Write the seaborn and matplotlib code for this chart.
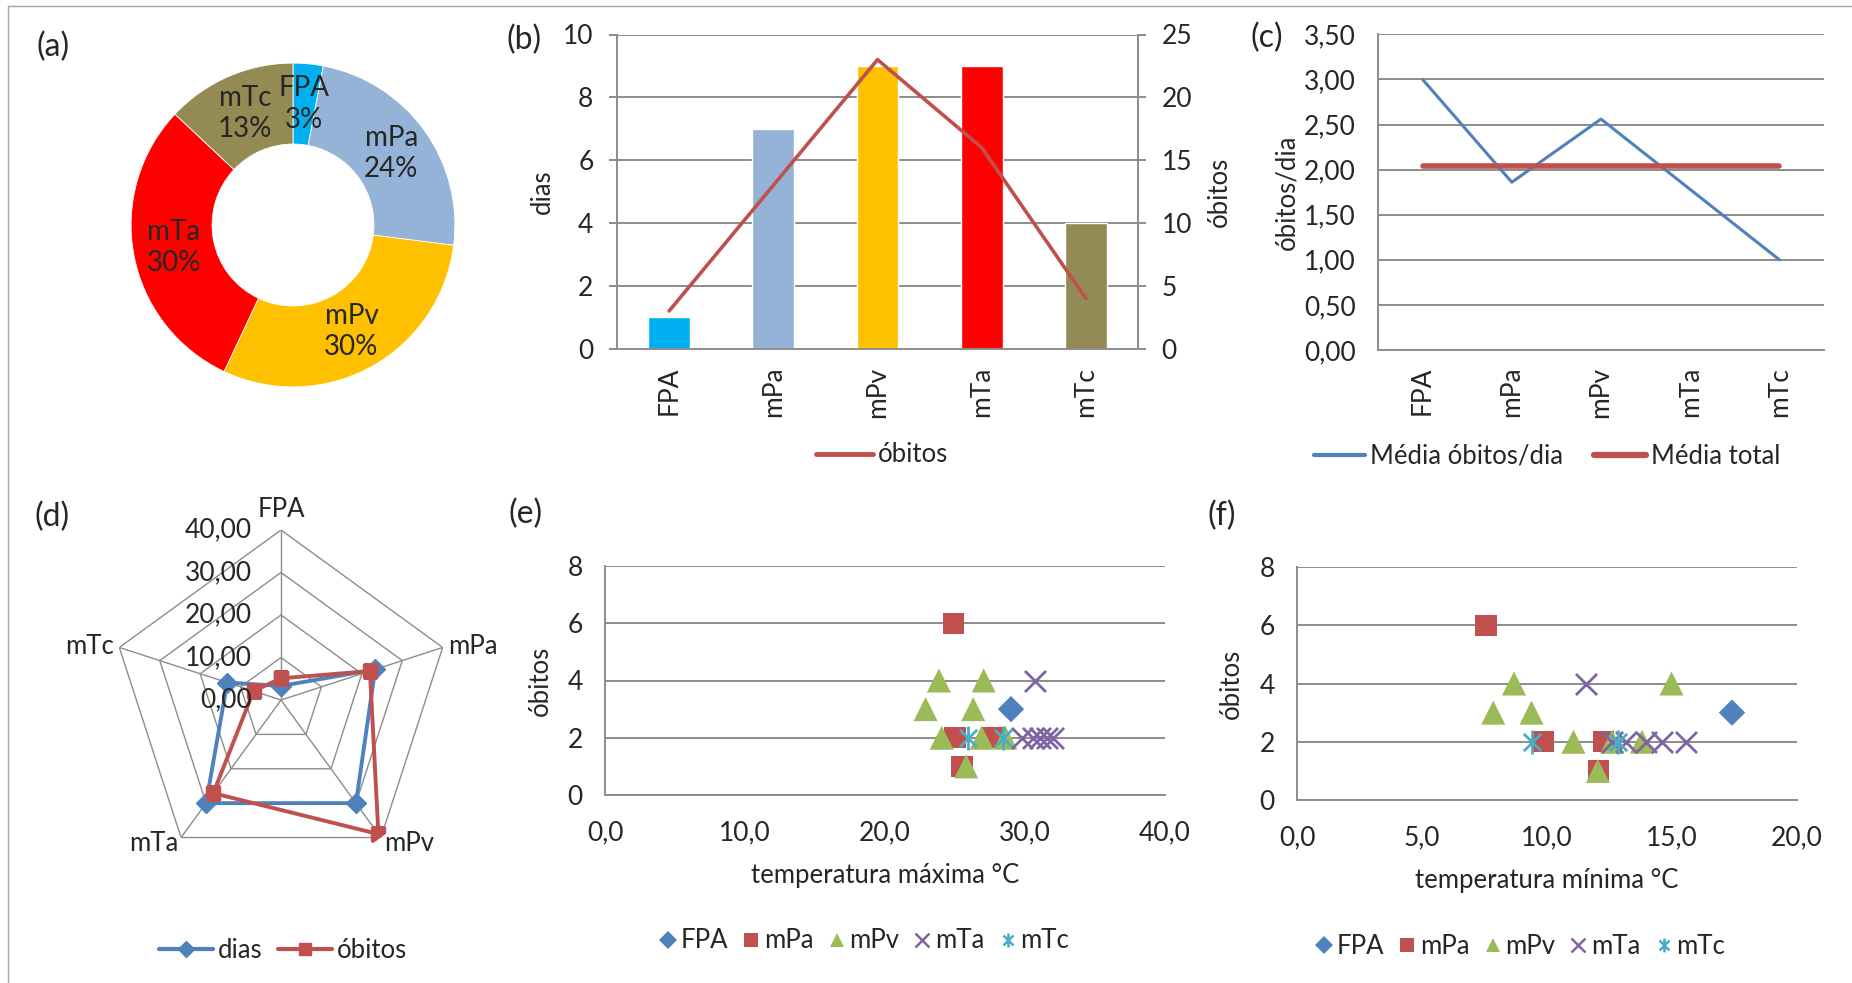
import numpy as np
import matplotlib
matplotlib.use('Agg')
import matplotlib.pyplot as plt
from matplotlib.lines import Line2D
from matplotlib.path import Path
import seaborn as sns

W, H = 1852, 983
DPI = 100

# ---- data ----
massas = ['FPA', 'mPa', 'mPv', 'mTa', 'mTc']
cores_massas = ['#00B0F0', '#95B3D7', '#FFC000', '#FF0000', '#948A54']

pct_dias = [3, 24, 30, 30, 13]            # (a) donut
dias = [1, 7, 9, 9, 4]                    # (b) bars
obitos = [3, 13, 23, 16, 4]               # (b) line
media_obitos_dia = [3.00, 1.86, 2.56, 1.78, 1.00]   # (c)
media_total = 2.04
radar_dias = [3.3, 23.3, 30.0, 30.0, 13.3]           # (d)
radar_obitos = [5.1, 22.0, 39.0, 27.1, 6.8]

# (e) temperatura maxima / (f) temperatura minima vs obitos, per air mass
tmax = {
    'FPA': [29.0],
    'mPa': [24.9, 25.0, 27.7, 25.5],
    'mPv': [23.85, 27.05, 22.9, 26.3, 24.05, 26.9, 28.6, 25.8],
    'mTa': [30.7, 29.8, 30.6, 31.1, 31.55, 32.0],
    'mTc': [25.9, 28.4],
}
tmin = {
    'FPA': [17.4],
    'mPa': [7.56, 9.86, 12.26, 12.07],
    'mPv': [8.68, 14.98, 7.85, 9.38, 11.06, 12.6, 13.8, 12.03],
    'mTa': [11.56, 12.58, 13.16, 13.96, 14.6, 15.56],
    'mTc': [9.4, 12.85],
}
ob_dia = {
    'FPA': [3],
    'mPa': [6, 2, 2, 1],
    'mPv': [4, 4, 3, 3, 2, 2, 2, 1],
    'mTa': [4, 2, 2, 2, 2, 2],
    'mTc': [2, 2],
}

GRID = '#8C8C8C'
BLUE = '#4F81BD'
RED = '#C0504D'
# Excel-like "star": an X with a vertical bar through it
STAR = Path([(0, -1), (0, 1), (-0.72, -0.72), (0.72, 0.72), (-0.72, 0.72), (0.72, -0.72)],
            [Path.MOVETO, Path.LINETO] * 3)
sc_style = {
    'FPA': dict(marker='D', color=BLUE, s=180),
    'mPa': dict(marker='s', color=RED, s=230),
    'mPv': dict(marker='^', color='#9BBB59', s=300),
    'mTa': dict(marker='x', color='#8064A2', s=230),
    'mTc': dict(marker=STAR, color='#4BACC6', s=300),
}

sns.set_style('white')
plt.rcParams['font.family'] = ['Lato', 'DejaVu Sans']
FS = 18.5
TICK = 19
TAG = 23
plt.rcParams['font.size'] = FS
plt.rcParams['xtick.labelsize'] = TICK
plt.rcParams['ytick.labelsize'] = TICK


def box(x1, y1, x2, y2):
    return [x1 / W, 1 - y2 / H, (x2 - x1) / W, (y2 - y1) / H]


def comma(v, nd):
    return f'{v:.{nd}f}'.replace('.', ',')


fig = plt.figure(figsize=(W / DPI, H / DPI), dpi=DPI)

# outer frame
fig.add_artist(Line2D([8 / W, 8 / W], [0, 1 - 5.5 / H], color='#A6A6A6', lw=1))
fig.add_artist(Line2D([8 / W, 1], [1 - 5.5 / H, 1 - 5.5 / H], color='#A6A6A6', lw=1))

# ---------------- (a) donut ----------------
axa = fig.add_axes(box(293 - 170, 225 - 170, 293 + 170, 225 + 170))
wedges, _ = axa.pie(pct_dias, colors=cores_massas, startangle=90, counterclock=False,
                    wedgeprops=dict(width=0.5, edgecolor='white', linewidth=0.6))
for w, nome, p in zip(wedges, massas, pct_dias):
    ang = np.deg2rad((w.theta1 + w.theta2) / 2)
    axa.text(0.75 * np.cos(ang), 0.75 * np.sin(ang), f'{nome}\n{p}%', ha='center', va='center',
             fontsize=20, linespacing=1.25)
axa.set_xlim(-1.05, 1.05)
axa.set_ylim(-1.05, 1.05)
fig.text(53 / W, 1 - 47 / H, '(a)', ha='center', va='center', fontsize=TAG)

# ---------------- (b) bars + line ----------------
axb = fig.add_axes(box(617, 34.5, 1138, 348.7))
sns.barplot(x=massas, y=dias, hue=massas, palette=cores_massas, saturation=1, width=0.4,
            legend=False, ax=axb)
axb.set_xlim(-0.5, 4.5)
axb.set_ylim(0, 10)
axb.set_yticks(np.arange(0, 11, 2))
axb.yaxis.grid(True, color=GRID, lw=1.4)
axb.set_axisbelow(True)
axb.set_xticks(range(5), massas, rotation=90)
axb.set_xticks(np.arange(-0.5, 5, 1), minor=True)
axb.tick_params(axis='x', which='major', length=0, pad=13)
axb.tick_params(axis='x', which='minor', length=6, color=GRID, width=1.4, direction='out')
axb.tick_params(axis='y', length=6, color=GRID, width=1.4, direction='out', pad=11)
for s in ['top', 'right']:
    axb.spines[s].set_visible(False)
for s in ['left', 'bottom']:
    axb.spines[s].set_color(GRID)
    axb.spines[s].set_linewidth(1.4)
axb.set_xlabel('')
axb.set_ylabel('dias', fontsize=FS)
axb.yaxis.set_label_coords(-0.119, 0.5)

axb2 = axb.twinx()
sns.lineplot(x=np.arange(5), y=obitos, color=RED, lw=2.6, ax=axb2)
axb2.set_ylim(0, 25)
axb2.set_yticks(np.arange(0, 26, 5))
axb2.tick_params(axis='y', length=6, color=GRID, width=1.4, direction='out', pad=11)
for s in ['top', 'left', 'bottom']:
    axb2.spines[s].set_visible(False)
axb2.spines['right'].set_color(GRID)
axb2.spines['right'].set_linewidth(1.4)
axb2.set_ylabel('óbitos', fontsize=FS, rotation=90)
axb2.yaxis.set_label_coords(1.132, 0.5)
axb2.set_xlim(-0.5, 4.5)
fig.legend([Line2D([], [], color=RED, lw=3.5)], ['óbitos'], loc='center',
           bbox_to_anchor=(882 / W, 1 - 455 / H), frameon=False, handlelength=2.2,
           handletextpad=0.2, fontsize=FS)
fig.text(524 / W, 1 - 40 / H, '(b)', ha='center', va='center', fontsize=TAG)

# ---------------- (c) lines ----------------
axc = fig.add_axes(box(1378, 34.3, 1824, 350))
sns.lineplot(x=np.arange(5), y=media_obitos_dia, color=BLUE, lw=2.2, ax=axc)
sns.lineplot(x=np.arange(5), y=[media_total] * len(massas), color=RED, lw=4, ax=axc)
axc.set_xlim(-0.5, 4.5)
axc.set_ylim(0, 3.5)
yt = np.arange(0, 3.51, 0.5)
axc.set_yticks(yt, [comma(v, 2) for v in yt])
axc.yaxis.grid(True, color=GRID, lw=1.4)
axc.set_axisbelow(True)
axc.set_xticks(range(5), massas, rotation=90)
axc.set_xticks(np.arange(-0.5, 5, 1), minor=True)
axc.tick_params(axis='x', which='major', length=0, pad=12)
axc.tick_params(axis='x', which='minor', length=6, color=GRID, width=1.4, direction='out')
axc.tick_params(axis='y', length=6, color=GRID, width=1.4, direction='out', pad=10)
for s in ['top', 'right']:
    axc.spines[s].set_visible(False)
for s in ['left', 'bottom']:
    axc.spines[s].set_color(GRID)
    axc.spines[s].set_linewidth(1.4)
axc.set_xlabel('')
axc.set_ylabel('óbitos/dia', fontsize=FS)
axc.yaxis.set_label_coords(-0.177, 0.5)
fig.legend([Line2D([], [], color=BLUE, lw=3), Line2D([], [], color=RED, lw=4.5)],
           ['Média óbitos/dia', 'Média total'], loc='center', ncol=2,
           bbox_to_anchor=(1547 / W, 1 - 456 / H), frameon=False, handlelength=2.0,
           handletextpad=0.2, columnspacing=1.2, fontsize=FS)
fig.text(1267 / W, 1 - 38 / H, '(c)', ha='center', va='center', fontsize=TAG)

# ---------------- (d) radar ----------------
axd = fig.add_axes(box(281 - 170, 700 - 170, 281 + 170, 700 + 170), projection='polar')
axd.set_theta_offset(np.pi / 2)
axd.set_theta_direction(-1)
ang = np.linspace(0, 2 * np.pi, len(massas), endpoint=False)
ang_c = np.append(ang, ang[0])
for r in [10, 20, 30, 40]:
    axd.plot(ang_c, [r] * len(ang_c), color=GRID, lw=1)
for a in ang:
    axd.plot([a, a], [0, 40], color=GRID, lw=1)
axd.plot(ang_c, np.append(radar_dias, radar_dias[0]), color=BLUE, lw=2.8, marker='D', ms=10)
axd.plot(ang_c, np.append(radar_obitos, radar_obitos[0]), color=RED, lw=2.8, marker='s', ms=10)
axd.set_ylim(0, 40)
axd.grid(False)
axd.set_xticks([])
axd.set_yticks([])
axd.spines['polar'].set_visible(False)
axd.patch.set_alpha(0)
for r in [0, 10, 20, 30, 40]:
    axd.annotate(comma(r, 2), xy=(0, r), xytext=(-21, 0), textcoords='offset points',
                 ha='right', va='center', fontsize=TICK)
# category labels hugging the outer vertices
lab_pos = {'FPA': ('center', 'bottom', 0, 6), 'mPa': ('left', 'center', 4, 1),
           'mPv': ('left', 'center', 2, -4), 'mTa': ('right', 'center', -2, -4),
           'mTc': ('right', 'center', -4, 1)}
for a, nome in zip(ang, massas):
    ha, va, dx, dy = lab_pos[nome]
    axd.annotate(nome, xy=(a, 40), xytext=(dx, dy), textcoords='offset points',
                 ha=ha, va=va, fontsize=FS)
fig.legend([Line2D([], [], color=BLUE, lw=3, marker='D', ms=8),
            Line2D([], [], color=RED, lw=3, marker='s', ms=8)],
           ['dias', 'óbitos'], loc='center', ncol=2, bbox_to_anchor=(283 / W, 1 - 950 / H),
           frameon=False, handlelength=2.1, handletextpad=0.2, columnspacing=0.6, fontsize=FS)
fig.text(52 / W, 1 - 517 / H, '(d)', ha='center', va='center', fontsize=TAG)


# ---------------- (e) / (f) scatter ----------------
def scatter_panel(rect, temps, xmax, xstep, xlabel, lab_y, ylab_x, leg_xy, tag, tag_xy):
    ax = fig.add_axes(box(*rect))
    handles = []
    for m in massas:
        st = sc_style[m]
        if m == 'mTa':
            extra = dict(linewidth=2)
        elif m == 'mTc':
            extra = dict(linewidth=2, edgecolor=st['color'])
        else:
            extra = dict(linewidth=0, edgecolor='none')
        sns.scatterplot(x=temps[m], y=ob_dia[m], marker=st['marker'], color=st['color'],
                        s=st['s'], ax=ax, zorder=3, **extra)
        handles.append(Line2D([], [], ls='none', marker=st['marker'], color=st['color'],
                              markersize=10 if m != 'FPA' else 9,
                              markeredgewidth=1.8 if m in ('mTa', 'mTc') else 0))
    ax.set_xlim(0, xmax)
    ax.set_ylim(0, 8)
    xt = np.arange(0, xmax + 0.01, xstep)
    ax.set_xticks(xt, [comma(v, 1) for v in xt])
    ax.set_yticks(np.arange(0, 9, 2))
    ax.yaxis.grid(True, color=GRID, lw=1.4)
    ax.set_axisbelow(True)
    ax.tick_params(axis='x', length=0, pad=18)
    ax.tick_params(axis='y', length=0, pad=16)
    for s in ['top', 'right']:
        ax.spines[s].set_visible(False)
    for s in ['left', 'bottom']:
        ax.spines[s].set_color(GRID)
        ax.spines[s].set_linewidth(1.4)
    ax.set_xlabel(xlabel, fontsize=FS)
    ax.xaxis.set_label_coords(0.5, lab_y)
    ax.set_ylabel('óbitos', fontsize=FS)
    ax.yaxis.set_label_coords(ylab_x, 0.5)
    fig.legend(handles, massas, loc='center', ncol=5, bbox_to_anchor=leg_xy, frameon=False,
               handlelength=0.7, handletextpad=0.15, columnspacing=0.55, fontsize=FS)
    fig.text(tag_xy[0] / W, 1 - tag_xy[1] / H, tag, ha='center', va='center', fontsize=TAG)
    return ax


scatter_panel((605, 566, 1165, 795), tmax, 40, 10, 'temperatura máxima °C', -0.295, -0.093,
              (864 / W, 1 - 941 / H), '(e)', (526, 514))
scatter_panel((1297, 567, 1797, 800), tmin, 20, 5, 'temperatura mínima °C', -0.29, -0.106,
              (1520 / W, 1 - 946 / H), '(f)', (1222, 516))

fig.savefig('out.png', dpi=DPI)
